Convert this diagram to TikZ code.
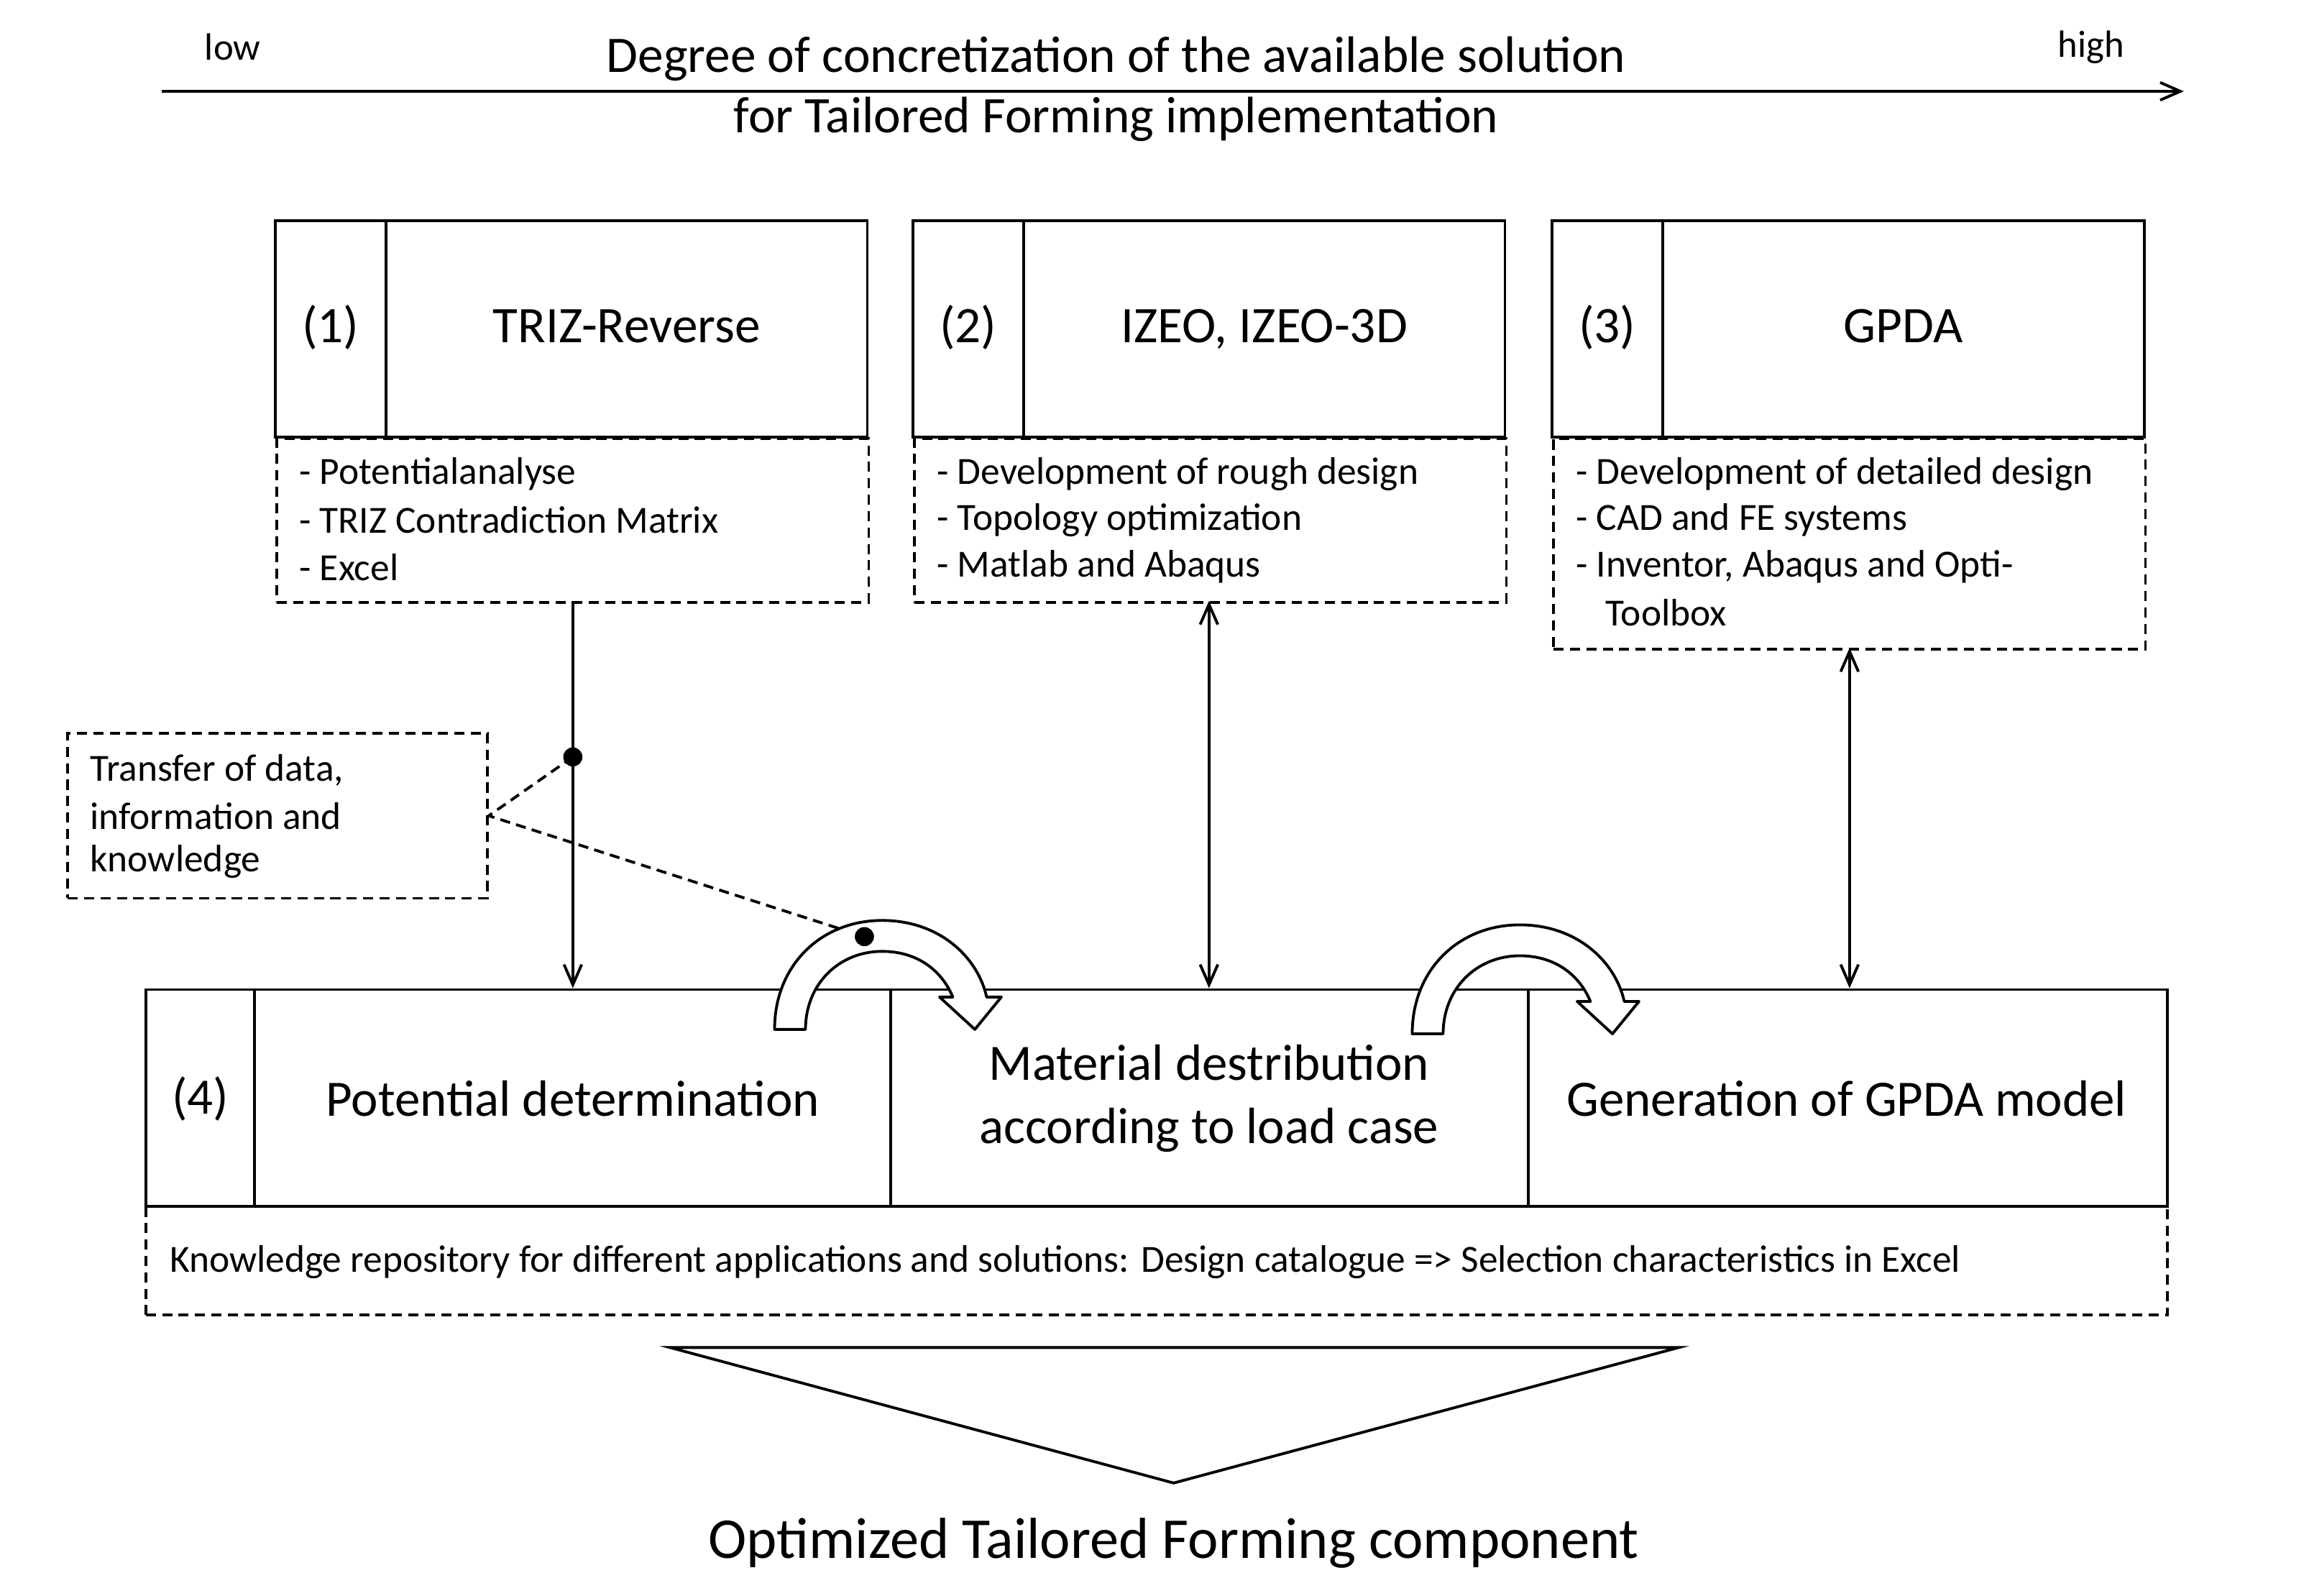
\documentclass[tikz,border=0pt]{standalone}
\usepackage{fontspec}
\setmainfont{Carlito}
\usetikzlibrary{arrows.meta}
\begin{document}
\begin{tikzpicture}[x=0.020485cm,y=-0.020485cm,
  dbox/.style={draw,line width=1.1pt,dash pattern=on 4pt off 2.5pt},
  ln/.style={line width=1.1pt},
  arr/.style={line width=1.1pt,-{Straight Barb[length=8pt,width=7pt]}},
  darr/.style={line width=1.1pt,{Straight Barb[length=8pt,width=7pt]}-{Straight Barb[length=8pt,width=7pt]}},
  bul/.style={anchor=west,font=\fontsize{15.2}{18}\selectfont,inner sep=0},
  ttl/.style={font=\fontsize{20.3}{24}\selectfont,text height=14pt,text depth=4pt},
  big/.style={font=\fontsize{20.2}{25}\selectfont,align=center},
  curv/.style={draw,fill=white,line width=1.1pt,line join=round}]
\useasboundingbox (0,0) rectangle (1568,1083.7);
% axis
\coordinate (a1) at (110,62); \coordinate (a2) at (1483,62);
\draw[arr] (a1) -- (a2);
\node[font=\fontsize{15}{18}\selectfont] (low) at (158,32) {low};
\node[font=\fontsize{15}{18}\selectfont] (high) at (1420,32) {high};
\node[font=\fontsize{20.3}{24}\selectfont] (t1) at (758,40) {Degree of concretization of the available solution};
\node[font=\fontsize{20.3}{24}\selectfont] (t2) at (758,81) {for Tailored Forming implementation};
% top boxes
\foreach \n/\x/\num/\t in {1/187/(1)/TRIZ-Reverse,2/620/(2)/{IZEO, IZEO-3D},3/1054/(3)/GPDA}{
  \draw[ln] (\x,150) rectangle (\x+402,297);
  \draw[ln] (\x+75,150) -- (\x+75,297);
  \node[ttl] (n\n) at (\x+37.5,224) {\num};
  \node[ttl] (h\n) at (\x+238.5,224) {\t};
}
\node[dbox,minimum width=402*0.020485cm,minimum height=111*0.020485cm,anchor=north west] (d1) at (187,297) {};
\node[dbox,minimum width=402*0.020485cm,minimum height=111*0.020485cm,anchor=north west] (d2) at (620,297) {};
\node[dbox,minimum width=402*0.020485cm,minimum height=143*0.020485cm,anchor=north west] (d3) at (1054,297) {};
\node[bul] at (203,322) {- Potentialanalyse};
\node[bul] at (203,353) {- TRIZ Contradiction Matrix};
\node[bul] at (203,385) {- Excel};
\node[bul] at (636,322) {- Development of rough design};
\node[bul] at (636,353) {- Topology optimization};
\node[bul] at (636,385) {- Matlab and Abaqus};
\node[bul] at (1070,322) {- Development of detailed design};
\node[bul] at (1070,353) {- CAD and FE systems};
\node[bul] at (1070,385) {- Inventor, Abaqus and Opti-};
\node[bul] at (1090,416) {Toolbox};
% bottom box
\node[draw,line width=1.1pt,minimum width=1373*0.020485cm,minimum height=147*0.020485cm,anchor=north west] (b4) at (98,671) {};
\draw[ln] (173,671) -- (173,818);
\draw[ln] (605,671) -- (605,818);
\draw[ln] (1038,671) -- (1038,818);
\node[big] (n4) at (136,746) {(4)};
\node[big] (p4) at (389,746) {Potential determination};
\node[big] (m4) at (821,746) {Material destribution\\according to load case};
\node[big] (g4) at (1254,746) {Generation of GPDA model};
\node[dbox,minimum width=1373*0.020485cm,minimum height=74*0.020485cm,anchor=north west] (k) at (98,818) {};
\node[bul,font=\fontsize{15.2}{18}\selectfont] at (115,857) {Knowledge repository for different applications and solutions: Design catalogue => Selection characteristics in Excel};
% triangle
\draw[ln,line join=miter] (455,915) -- (1140,915) -- (797,1007) -- cycle;
\node[font=\fontsize{22.9}{27}\selectfont] (opt) at (797,1048) {Optimized Tailored Forming component};
% connectors
\coordinate (e1) at (389,671); \coordinate (s1) at (389,408);
\draw[arr] (s1) -- (e1);
\coordinate (s2) at (821,408); \coordinate (e2) at (821,671);
\draw[darr] (s2) -- (e2);
\coordinate (s3) at (1256,440); \coordinate (e3) at (1256,671);
\draw[darr] (s3) -- (e3);
% transfer box
\node[dbox,minimum width=285*0.020485cm,minimum height=112*0.020485cm,anchor=north west] (tb) at (45,497) {};
\node[bul] at (61,523) {Transfer of data,};
\node[bul] at (61,554) {information and};
\node[bul] at (61,585) {knowledge};
\coordinate (dot1) at (389,514); \coordinate (dot2) at (587,636);
\draw[ln,dash pattern=on 4pt off 2.5pt] (dot1) -- (tb.east) -- (dot2);
% curved arrows
\foreach \dx/\dy in {0/0,433/3}{
\begin{scope}[shift={(\dx,\dy)}]
\draw[curv] (526,699) .. controls (526,655) and (558,625) .. (599,625)
  .. controls (638,625) and (664,650) .. (670,677) -- (680,677) -- (662,699) -- (638,677) -- (647,677)
  .. controls (640,660) and (624,646) .. (599,646)
  .. controls (570,646) and (547,668) .. (547,699) -- cycle;
\end{scope}}
\fill (dot1) circle (6.5);
\fill (dot2) circle (6.5);
\end{tikzpicture}
\end{document}
